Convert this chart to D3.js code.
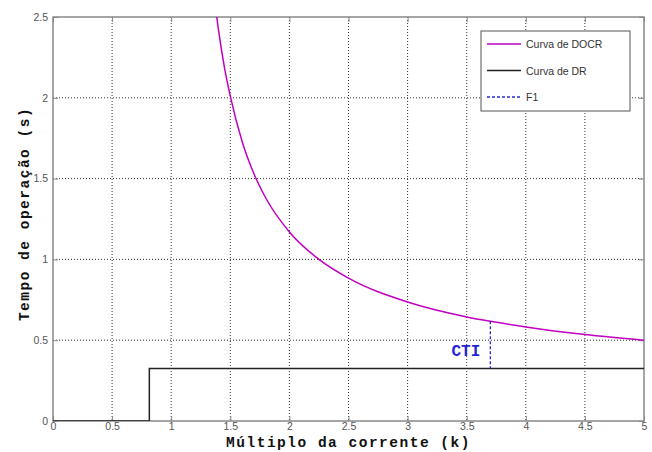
<!DOCTYPE html>
<html>
<head>
<meta charset="utf-8">
<script src="https://cdn.jsdelivr.net/npm/d3@7"></script>
<style>
  body { margin: 0; background: #fff; }
  .tick text { font-family: "Liberation Sans", Arial, sans-serif; font-size: 10.5px; fill: #555; }
</style>
</head>
<body>
<script>
// curve values
var docrK = [1.38, 1.4, 1.45, 1.5, 1.6, 1.7, 1.8, 2, 2.25, 2.5, 3, 3.5, 3.7, 4, 4.5, 5];
var docrT = [2.53, 2.42, 2.19, 2.01, 1.73, 1.53, 1.38, 1.17, 1.0, 0.884, 0.736, 0.644, 0.617, 0.582, 0.535, 0.5];
var drK = [0, 0.815, 0.815, 5];
var drT = [0, 0, 0.325, 0.325];
var ctiK = 3.7, ctiTop = 0.617, ctiBottom = 0.325;
var xTicks = [0, 0.5, 1, 1.5, 2, 2.5, 3, 3.5, 4, 4.5, 5];
var yTicks = [0, 0.5, 1, 1.5, 2, 2.5];

var margin = {top: 17, right: 8, bottom: 31, left: 53},
    width = 652 - margin.left - margin.right,
    height = 452 - margin.top - margin.bottom;

var xScale = d3.scaleLinear().domain([0, 5]).range([0, width]);
var yScale = d3.scaleLinear().domain([0, 2.5]).range([height, 0]);

var svg = d3.select("body")
    .append("svg")
    .attr("width", 652)
    .attr("height", 452)
    .append("g")
    .attr("transform", "translate(" + margin.left + "," + margin.top + ")");

svg.append("defs").append("clipPath").attr("id", "clip")
    .append("rect").attr("width", width).attr("height", height);

// grid
svg.append("g")
    .selectAll("line")
    .data(xTicks.slice(1, -1))
    .enter().append("line")
    .attr("x1", d => xScale(d)).attr("x2", d => xScale(d))
    .attr("y1", 0).attr("y2", height)
    .attr("stroke", "#333").attr("stroke-width", 1).attr("stroke-dasharray", "1,2");
svg.append("g")
    .selectAll("line")
    .data(yTicks.slice(1, -1))
    .enter().append("line")
    .attr("x1", 0).attr("x2", width)
    .attr("y1", d => yScale(d)).attr("y2", d => yScale(d))
    .attr("stroke", "#333").attr("stroke-width", 1).attr("stroke-dasharray", "1,2");

// axes
var xaxis = d3.axisBottom(xScale).tickValues(xTicks).tickSize(-5).tickPadding(2).tickFormat(d3.format("~g"));
var yaxis = d3.axisLeft(yScale).tickValues(yTicks).tickSize(-5).tickPadding(5).tickFormat(d3.format("~g"));

svg.append("g").attr("transform", "translate(0," + height + ")").call(xaxis)
    .call(g => g.select(".domain").remove())
    .call(g => g.selectAll(".tick line").attr("stroke", "#888"));
svg.append("g").call(yaxis)
    .call(g => g.select(".domain").remove())
    .call(g => g.selectAll(".tick line").attr("stroke", "#888"));
// top/right ticks
svg.append("g").call(d3.axisTop(xScale).tickValues(xTicks).tickSize(-5).tickFormat(""))
    .call(g => g.select(".domain").remove())
    .call(g => g.selectAll(".tick line").attr("stroke", "#888"));
svg.append("g").attr("transform", "translate(" + width + ",0)")
    .call(d3.axisRight(yScale).tickValues(yTicks).tickSize(-5).tickFormat(""))
    .call(g => g.select(".domain").remove())
    .call(g => g.selectAll(".tick line").attr("stroke", "#888"));

// box
svg.append("rect")
    .attr("width", width).attr("height", height)
    .attr("fill", "none").attr("stroke", "#888").attr("stroke-width", 1.5);

var line = d3.line()
    .x(d => xScale(d[0]))
    .y(d => yScale(d[1]));

var plot = svg.append("g").attr("clip-path", "url(#clip)");

plot.append("path")
    .datum(docrK.map((k, i) => [k, docrT[i]]))
    .attr("d", line.curve(d3.curveMonotoneX))
    .attr("fill", "none").attr("stroke", "#c000c0").attr("stroke-width", 1.5);

plot.append("path")
    .datum(drK.map((k, i) => [k, drT[i]]))
    .attr("d", d3.line().x(d => xScale(d[0])).y(d => yScale(d[1])))
    .attr("fill", "none").attr("stroke", "#222").attr("stroke-width", 1.5);

plot.append("line")
    .attr("x1", xScale(ctiK)).attr("x2", xScale(ctiK))
    .attr("y1", yScale(ctiTop)).attr("y2", yScale(ctiBottom))
    .attr("stroke", "#2a2ad0").attr("stroke-width", 1.3).attr("stroke-dasharray", "3,2");

svg.append("text")
    .attr("x", xScale(ctiK) - 10)
    .attr("y", yScale(0.405))
    .attr("text-anchor", "end")
    .style("font-family", "'Liberation Mono', 'DejaVu Sans Mono', monospace")
    .style("font-weight", "bold")
    .style("font-size", "16px")
    .attr("fill", "#2424d8")
    .text("CTI");

// legend
var legend = svg.append("g").attr("transform", "translate(" + (481 - margin.left) + "," + (31 - margin.top) + ")");
legend.append("rect")
    .attr("width", 149).attr("height", 80)
    .attr("fill", "#fff").attr("stroke", "#555").attr("stroke-width", 1);
var legendItems = [
    {name: "Curva de DOCR", color: "#c000c0", dash: null},
    {name: "Curva de DR", color: "#222", dash: null},
    {name: "F1", color: "#2a2ad0", dash: "3,2"}
];
legendItems.forEach(function(d, i) {
    var yy = 13 + i * 26.5;
    legend.append("line")
        .attr("x1", 6).attr("x2", 40).attr("y1", yy).attr("y2", yy)
        .attr("stroke", d.color).attr("stroke-width", 1.5)
        .attr("stroke-dasharray", d.dash);
    legend.append("text")
        .attr("x", 45).attr("y", yy + 4)
        .style("font-family", "'Liberation Sans', Arial, sans-serif")
        .style("font-size", "10.5px")
        .attr("fill", "#333")
        .text(d.name);
});

// axis labels
svg.append("text")
    .attr("x", width / 2)
    .attr("y", height + 26)
    .attr("text-anchor", "middle")
    .style("font-family", "'Liberation Mono', 'DejaVu Sans Mono', monospace")
    .style("font-weight", "bold")
    .style("font-size", "14.5px")
    .style("letter-spacing", "1.5px")
    .attr("fill", "#111")
    .text("Múltiplo da corrente (k)");

svg.append("text")
    .attr("transform", "translate(" + (-24) + "," + (height / 2 - 5) + ") rotate(-90)")
    .attr("text-anchor", "middle")
    .style("font-family", "'Liberation Mono', 'DejaVu Sans Mono', monospace")
    .style("font-weight", "bold")
    .style("font-size", "14.5px")
    .style("letter-spacing", "1.5px")
    .attr("fill", "#111")
    .text("Tempo de operação (s)");
</script>
</body>
</html>
